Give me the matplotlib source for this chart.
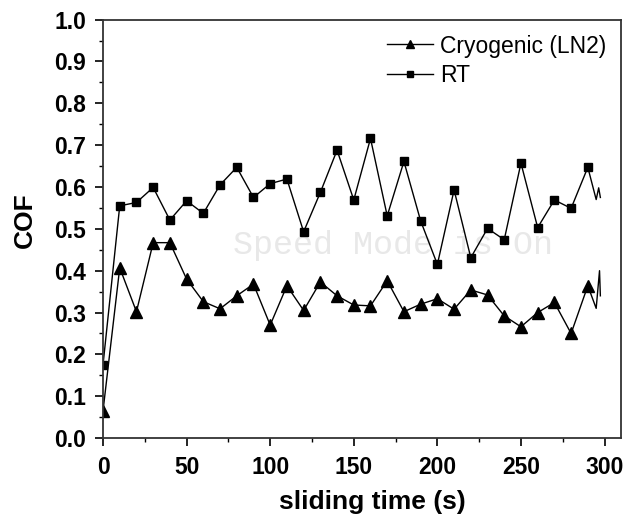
import matplotlib.pyplot as plt
from matplotlib.ticker import MultipleLocator, FormatStrFormatter

plt.rcParams['font.family'] = ['Liberation Sans', 'DejaVu Sans']

# sliding time (s) and COF
t_rt = [0, 10, 20, 30, 40, 50, 60, 70, 80, 90, 100, 110, 120, 130, 140, 150,
        160, 170, 180, 190, 200, 210, 220, 230, 240, 250, 260, 270, 280, 290,
        295, 296.5, 297.5]
cof_rt = [0.175, 0.555, 0.563, 0.599, 0.521, 0.567, 0.537, 0.605, 0.647, 0.575,
          0.608, 0.619, 0.493, 0.587, 0.688, 0.569, 0.716, 0.531, 0.661, 0.519,
          0.415, 0.593, 0.431, 0.501, 0.474, 0.657, 0.503, 0.569, 0.549, 0.647,
          0.57, 0.598, 0.575]

t_cryo = [0, 10, 20, 30, 40, 50, 60, 70, 80, 90, 100, 110, 120, 130, 140, 150,
          160, 170, 180, 190, 200, 210, 220, 230, 240, 250, 260, 270, 280, 290,
          295, 297, 297.5]
cof_cryo = [0.065, 0.407, 0.302, 0.467, 0.467, 0.380, 0.326, 0.309, 0.340, 0.368,
            0.270, 0.364, 0.305, 0.373, 0.340, 0.318, 0.316, 0.376, 0.302, 0.320,
            0.333, 0.308, 0.354, 0.342, 0.292, 0.266, 0.300, 0.324, 0.250, 0.364,
            0.31, 0.40, 0.34]

n_marked = 30  # last few readings are drawn without markers

fig = plt.figure(figsize=(6.32, 5.16), dpi=100)
ax = fig.add_axes([0.163, 0.151, 0.82, 0.811])

ax.plot(t_cryo, cof_cryo, color='black', lw=1.0, marker='^', markersize=8,
        markevery=list(range(n_marked)), label='Cryogenic (LN2)')
ax.plot(t_rt, cof_rt, color='black', lw=1.0, marker='s', markersize=6,
        markevery=list(range(n_marked)), label='RT')

# faint scanner watermark
ax.text(0.56, 0.46, 'Speed Mode is On', transform=ax.transAxes, ha='center',
        va='center', fontsize=24, color='#e8e8e8', family='Liberation Mono',
        zorder=0)

ax.set_xlim(0, 310)
ax.set_ylim(0, 1.0)
ax.xaxis.set_major_locator(MultipleLocator(50))
ax.xaxis.set_minor_locator(MultipleLocator(25))
ax.yaxis.set_major_locator(MultipleLocator(0.1))
ax.yaxis.set_minor_locator(MultipleLocator(0.05))
ax.yaxis.set_major_formatter(FormatStrFormatter('%.1f'))
ax.tick_params(which='major', direction='out', length=6, width=1.2,
               labelsize=16.5)
ax.tick_params(axis='x', which='major', pad=7)
ax.tick_params(axis='y', which='major', pad=6)
ax.tick_params(which='minor', direction='out', length=3, width=1.0)
for lab in ax.get_xticklabels() + ax.get_yticklabels():
    lab.set_fontweight('bold')
for sp in ax.spines.values():
    sp.set_linewidth(1.3)
    sp.set_color('#333333')

ax.set_xlabel('sliding time (s)', fontsize=19, fontweight='bold')
ax.xaxis.set_label_coords(0.52, -0.125)
ax.set_ylabel('COF', fontsize=19, fontweight='bold')
ax.yaxis.set_label_coords(-0.128, 0.52)

leg = ax.legend(loc='upper right', frameon=False, fontsize=16.5,
                handlelength=2.0, handletextpad=0.3, labelspacing=0.3,
                borderaxespad=0.25, markerscale=0.7)

fig.savefig('out.png', dpi=100, facecolor='white')
